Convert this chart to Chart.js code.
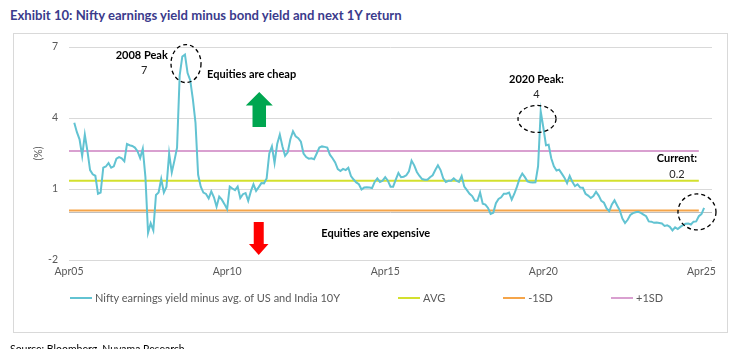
<!DOCTYPE html>
<html><head><meta charset="utf-8">
<script src="https://cdn.jsdelivr.net/npm/chart.js@4.4.1/dist/chart.umd.min.js"></script>
<style>
html,body{margin:0;padding:0;background:#fff;}
body{width:743px;height:349px;position:relative;overflow:hidden;font-family:Lato,"Liberation Sans",sans-serif;}
#title{position:absolute;left:10px;top:7px;font-weight:bold;font-size:13.1px;color:#3b3b8c;white-space:nowrap;}
#frame{position:absolute;left:13px;top:33px;width:713px;height:298px;border:1px solid #d9d9d9;}
#c{position:absolute;left:0;top:0;}
#legend{position:absolute;left:70px;top:291px;display:flex;gap:58px;font-size:11px;line-height:14px;color:#595959;}
.li{display:flex;align-items:center;white-space:nowrap;}
.sw{width:22px;height:2px;margin-right:3px;}
#source{position:absolute;left:10px;top:343px;font-size:10.5px;color:#000;white-space:nowrap;}
</style></head>
<body>
<div id="title">Exhibit 10: Nifty earnings yield minus bond yield and next 1Y return</div>
<div id="frame"></div>
<canvas id="c" width="743" height="349"></canvas>
<div id="legend"></div>
<div id="source">Source: Bloomberg, Nuvama Research</div>
<script>
// ---- data ----
const monthNames = ["Jan","Feb","Mar","Apr","May","Jun","Jul","Aug","Sep","Oct","Nov","Dec"];
const startYear = 2005, startMonth = 3, monthCount = 245; // Apr05 ... Apr25+
const tickLabels = ["Apr05","Apr10","Apr15","Apr20","Apr25"];
const seriesName = "Nifty earnings yield minus avg. of US and India 10Y";
// monthly readings, Jun05 ... May25
const niftyValues = [
 3.8,3.4,3.1,2.4,3.3,2.6,1.8,1.62,1.56,0.8,
 0.85,1.9,1.95,2.1,1.9,1.96,2.28,2.35,2.3,2.17,
 2.9,2.85,2.82,2.75,2.6,2.31,2.7,1.5,-0.85,-0.45,
 -0.75,0.75,0.85,1.42,0.85,1.1,2.5,1.7,2.2,2.75,
 5.8,6.6,6.68,5.9,5.6,4.8,3.8,1.6,1.1,0.85,
 0.79,0.6,0.9,0.65,0.25,0.68,0.55,0.36,0.15,1.1,
 1.02,0.95,1.1,0.62,0.78,0.83,0.5,0.9,1.2,0.92,
 1.08,1.25,1.24,1.45,2.5,2.8,2.1,2.9,3.3,2.8,
 2.4,2.55,3.1,3.44,3.23,3.15,3.0,2.5,2.35,2.28,
 2.3,2.26,2.5,2.75,2.8,2.78,2.75,2.45,2.3,2.12,
 1.84,1.76,1.85,1.8,1.9,1.55,1.4,1.28,1.2,0.98,
 1.06,1.07,1.06,1.04,1.3,1.45,1.3,1.35,1.5,1.35,
 1.1,1.1,1.4,1.68,1.5,1.52,1.58,1.75,2.2,2.0,
 1.72,1.55,1.42,1.39,1.39,1.5,1.58,1.8,2.0,1.8,
 1.45,1.3,1.35,1.35,1.45,1.35,1.3,1.55,1.1,0.95,
 0.8,0.7,0.5,0.5,0.85,0.38,0.34,0.2,-0.05,0.0,
 0.4,0.58,0.65,0.8,0.8,0.85,0.55,0.8,1.1,1.45,
 1.65,1.5,1.32,1.28,1.27,1.28,1.96,4.28,3.6,2.85,
 2.87,2.3,1.96,1.78,1.82,1.65,1.48,1.25,1.55,1.3,
 1.12,1.2,1.06,1.05,0.8,0.72,0.62,0.7,0.88,0.72,
 0.5,0.42,0.18,0.06,0.35,0.52,0.3,0.1,-0.25,-0.44,
 -0.3,-0.1,-0.02,0.02,0.04,-0.01,-0.08,-0.15,-0.37,-0.38,
 -0.43,-0.42,-0.44,-0.46,-0.56,-0.53,-0.6,-0.75,-0.62,-0.69,
 -0.6,-0.53,-0.47,-0.46,-0.5,-0.38,-0.37,-0.15,-0.06,0.2
];
const niftyStartIndex = 2;           // first reading is Jun05
const avgValue = 1.35, minus1SD = 0.09, plus1SD = 2.61;
const refEndIndex = 239;

const labels = [];
for (let i = 0; i < monthCount; i++) {
  const mm = (startMonth + i) % 12, yy = startYear + Math.floor((startMonth + i) / 12);
  labels.push(monthNames[mm] + String(yy % 100).padStart(2, "0"));
}
const niftySeries = labels.map((l, i) => {
  const k = i - niftyStartIndex;
  return (k >= 0 && k < niftyValues.length) ? niftyValues[k] : null;
});
const refLine = v => [{x: labels[0], y: v}, {x: labels[refEndIndex], y: v}];

// annotations placed in data space: [category index, value]
const notes = [
  {type:"text", text:"2008 Peak", at:[27.6, 6.63], bold:true},
  {type:"text", text:"7", at:[28.5, 6.0]},
  {type:"ellipse", at:[44.4, 6.3], rx:15, ry:19},
  {type:"text", text:"Equities are cheap", at:[69.3, 5.83], bold:true},
  {type:"arrow", at:[72.2, 5.1], dir:"up", h:35, headW:27, headH:13.5, shaftW:13.5, color:"#00a650"},
  {type:"arrow", at:[72.0, -0.39], dir:"down", h:33, headW:19.5, headH:11, shaftW:10, color:"#ff0000"},
  {type:"text", text:"Equities are expensive", at:[116.4, -0.86], bold:true},
  {type:"text", text:"2020 Peak:", at:[177.4, 5.62], bold:true},
  {type:"text", text:"4", at:[177.4, 4.99]},
  {type:"ellipse", at:[177.6, 3.96], rx:19, ry:13.5},
  {type:"text", text:"Current:", at:[230.7, 2.27], bold:true},
  {type:"text", text:"0.2", at:[230.7, 1.6]},
  {type:"ellipse", at:[238.3, 0.03], rx:19, ry:18}
];

const FONT = "Lato, 'Liberation Sans', sans-serif";
const notesPlugin = {
  id: "notes",
  afterDatasetsDraw(chart) {
    const {ctx, scales: {x, y}} = chart;
    ctx.save();
    notes.forEach(n => {
      const px = x.getPixelForValue(n.at[0]), py = y.getPixelForValue(n.at[1]);
      if (n.type === "text") {
        ctx.font = (n.bold ? "bold " : "") + "11px " + FONT;
        ctx.fillStyle = n.bold ? "#000" : "#262626";
        ctx.textAlign = "center"; ctx.textBaseline = "middle";
        ctx.fillText(n.text, px, py);
      } else if (n.type === "ellipse") {
        ctx.beginPath();
        ctx.setLineDash([4, 3]);
        ctx.lineWidth = 1.3; ctx.strokeStyle = "#000";
        ctx.ellipse(px, py, n.rx, n.ry, 0, 0, Math.PI * 2);
        ctx.stroke();
        ctx.setLineDash([]);
      } else if (n.type === "arrow") {
        const s = n.dir === "up" ? 1 : -1;
        const tipY = n.dir === "up" ? py : py + n.h;
        const baseY = n.dir === "up" ? py + n.h : py;
        const headBase = tipY + s * n.headH;
        ctx.beginPath();
        ctx.moveTo(px, tipY);
        ctx.lineTo(px + n.headW / 2, headBase);
        ctx.lineTo(px + n.shaftW / 2, headBase);
        ctx.lineTo(px + n.shaftW / 2, baseY);
        ctx.lineTo(px - n.shaftW / 2, baseY);
        ctx.lineTo(px - n.shaftW / 2, headBase);
        ctx.lineTo(px - n.headW / 2, headBase);
        ctx.closePath();
        ctx.fillStyle = n.color; ctx.fill();
      }
    });
    ctx.restore();
  }
};

const chart = new Chart(document.getElementById("c"), {
  type: "line",
  data: {
    labels,
    datasets: [
      {label: seriesName, data: niftySeries, borderColor: "#62c3d2", backgroundColor: "#62c3d2", borderWidth: 2},
      {label: "AVG", data: refLine(avgValue), borderColor: "#d3e02e", backgroundColor: "#d3e02e", borderWidth: 2},
      {label: "-1SD", data: refLine(minus1SD), borderColor: "#f5a54a", backgroundColor: "#f5a54a", borderWidth: 2},
      {label: "+1SD", data: refLine(plus1SD), borderColor: "#d9a0d0", backgroundColor: "#d9a0d0", borderWidth: 2}
    ]
  },
  options: {
    responsive: false, animation: false,
    layout: {padding: {left: 0, right: 31, top: 47, bottom: 67}},
    elements: {point: {radius: 0}, line: {tension: 0}},
    plugins: {legend: {display: false}, tooltip: {enabled: false}},
    scales: {
      x: {
        type: "category",
        grid: {display: false, drawTicks: false},
        border: {display: false},
        ticks: {
          autoSkip: false, maxRotation: 0, padding: 5,
          color: "#595959", font: {family: FONT, size: 10.5},
          callback: (v, i) => (i % 60 === 0 ? tickLabels[i / 60] : null)
        },
        afterFit: s => { s.height = 22; }
      },
      y: {
        min: -2, max: 7,
        ticks: {stepSize: 3, padding: 11, color: "#595959", font: {family: FONT, size: 10.5},
          callback: v => (v === 0 ? "" : v)},
        afterBuildTicks: s => { s.ticks.push({value: 0}); s.ticks.sort((a, b) => a.value - b.value); },
        grid: {drawTicks: false, color: c => (c.tick && c.tick.value === 0 ? "#bfbfbf" : "#d9d9d9")},
        border: {display: false},
        title: {display: true, text: "(%)", color: "#595959", font: {family: FONT, size: 10.5}, padding: {top: 32, bottom: 0}},
        afterFit: s => { s.width = 69; }
      }
    }
  },
  plugins: [notesPlugin]
});

// HTML legend built from the chart's datasets
const legendEl = document.getElementById("legend");
chart.data.datasets.forEach(ds => {
  const item = document.createElement("div"); item.className = "li";
  const sw = document.createElement("span"); sw.className = "sw"; sw.style.background = ds.borderColor;
  const tx = document.createElement("span"); tx.textContent = ds.label;
  item.appendChild(sw); item.appendChild(tx); legendEl.appendChild(item);
});
</script>
</body></html>
